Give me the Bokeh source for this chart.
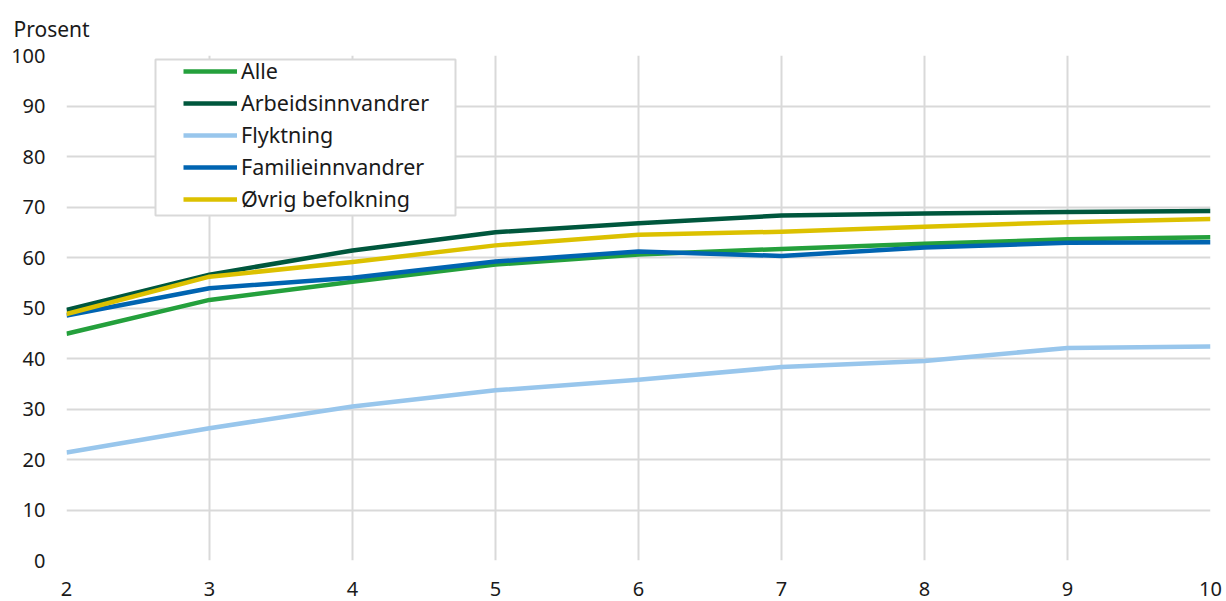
from bokeh.plotting import figure
from bokeh.models import Legend, LegendItem, FixedTicker, BoxAnnotation
from bokeh.embed import file_html
from bokeh.resources import INLINE

years = [2, 3, 4, 5, 6, 7, 8, 9, 10]
alle = [44.9, 51.6, 55.2, 58.6, 60.6, 61.7, 62.7, 63.6, 64.0]
arbeid = [49.6, 56.6, 61.4, 65.0, 66.8, 68.3, 68.7, 69.0, 69.2]
flyktning = [21.4, 26.2, 30.5, 33.7, 35.8, 38.3, 39.5, 42.1, 42.4]
familie = [48.5, 53.9, 56.0, 59.2, 61.2, 60.3, 62.0, 62.9, 63.0]
ovrig = [48.8, 56.2, 59.1, 62.4, 64.5, 65.1, 66.1, 67.0, 67.6]

names = ["Alle", "Arbeidsinnvandrer", "Flyktning", "Familieinnvandrer", "Øvrig befolkning"]
colors = ["#24a03c", "#00573d", "#98c6ec", "#0064b1", "#dcc100"]
series = [alle, arbeid, flyktning, familie, ovrig]
x_ticks = [2, 3, 4, 5, 6, 7, 8, 9, 10]
y_ticks = [0, 10, 20, 30, 40, 50, 60, 70, 80, 90, 100]

FONT = "Noto Sans"
TXT = "#1a1a1a"

p = figure(width=1226, height=600, x_range=(2, 10), y_range=(0, 100),
           output_backend="svg", toolbar_location=None,
           min_border_left=66, min_border_right=16, min_border_top=55, min_border_bottom=40,
           title="Prosent")
p.outline_line_color = None
p.background_fill_color = "white"

p.title.text_font = FONT
p.title.text_font_size = "21px"
p.title.text_font_style = "normal"
p.title.text_color = TXT
p.title.align = "left"
p.title.offset = -53
p.title.standoff = 24
p.title.vertical_align = "middle"

for ax in (p.xaxis[0], p.yaxis[0]):
    ax.axis_line_color = None
    ax.major_tick_line_color = None
    ax.minor_tick_line_color = None
    ax.major_label_text_font = FONT
    ax.major_label_text_font_size = "20px"
    ax.major_label_text_color = TXT

p.xaxis[0].ticker = FixedTicker(ticks=x_ticks)
p.yaxis[0].ticker = FixedTicker(ticks=y_ticks)
p.xaxis[0].major_label_standoff = 15
p.yaxis[0].major_label_standoff = 15

p.xgrid.ticker = FixedTicker(ticks=x_ticks)
p.ygrid.ticker = FixedTicker(ticks=y_ticks)
for g in (p.xgrid[0], p.ygrid[0]):
    g.grid_line_color = "#d9d9d9"
    g.grid_line_width = 2

items = []
for name, col, ys in zip(names, colors, series):
    r = p.line(years, ys, line_color=col, line_width=4.5, line_join="round", line_cap="butt")
    items.append(LegendItem(label=name, renderers=[r]))

# legend frame (drawn separately so its inner margins match the reference)
box = BoxAnnotation(left=89, right=389, bottom=345, top=501,
                    left_units="screen", right_units="screen",
                    bottom_units="screen", top_units="screen",
                    fill_color="white", fill_alpha=1,
                    line_color="#d9d9d9", line_width=2, line_alpha=1)
p.add_layout(box)

legend = Legend(items=items, location=(117, 347))
legend.label_text_font = FONT
legend.label_text_font_size = "21.5px"
legend.label_text_color = TXT
legend.glyph_width = 54
legend.glyph_height = 20
legend.label_height = 20
legend.label_standoff = 4
legend.spacing = 3
legend.padding = 0
legend.margin = 0
legend.border_line_color = None
legend.background_fill_alpha = 0
p.add_layout(legend, "center")

open("out.html", "w").write(file_html(p, INLINE))
